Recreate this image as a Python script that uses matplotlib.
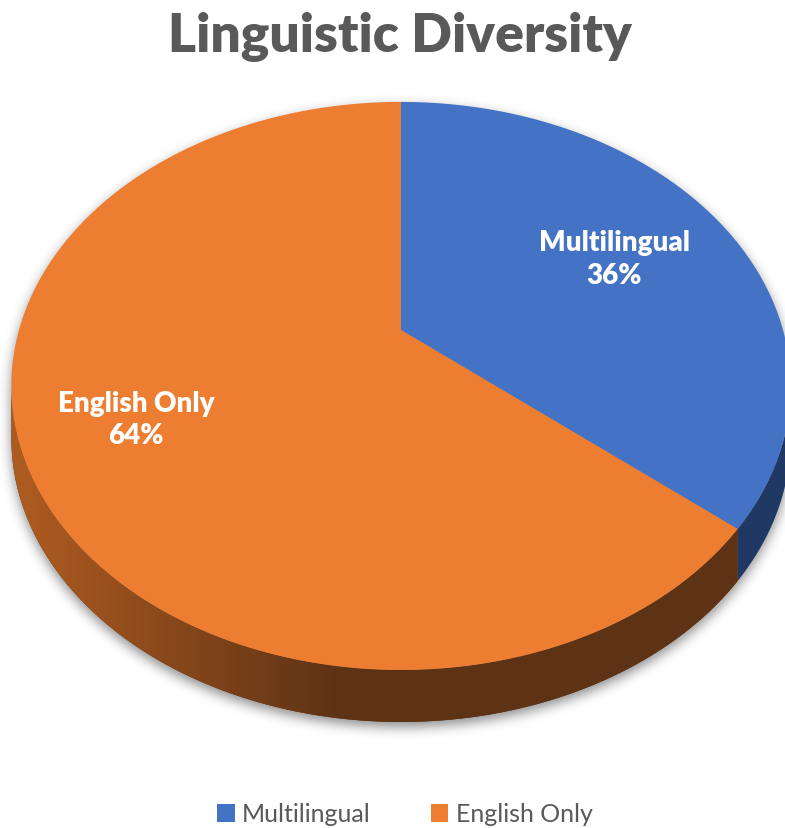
import numpy as np
import matplotlib
matplotlib.use("Agg")
import matplotlib.pyplot as plt
from matplotlib.patches import Polygon, Patch
from matplotlib.path import Path
from matplotlib.colors import to_rgb

labels = ["Multilingual", "English Only"]
values = [36, 64]
top_colors = ["#4472C4", "#ED7D31"]
side_colors = ["#1F3864", "#5E3215"]
label_radius = [0.65, 0.72]

W, H = 785, 829
# perspective disc: centre, half-axes, tilt factor, rim thickness (pixels)
cx, cy = 401, 331
A, B, k = 382, 273, 0.197
D = 52

plt.rcParams["font.family"] = ["Lato", "DejaVu Sans"]


def project(phi, r=1.0):
    # phi measured clockwise from 12 o'clock
    x = r * np.sin(phi)
    y = r * np.cos(phi)
    d = 1 + k * y
    return cx + A * x / d, cy - B * y / d


def blur(img, sigma):
    rad = int(3 * sigma)
    t = np.arange(-rad, rad + 1)
    ker = np.exp(-t ** 2 / (2 * sigma ** 2))
    ker /= ker.sum()
    img = np.apply_along_axis(lambda v: np.convolve(v, ker, mode="same"), 0, img)
    img = np.apply_along_axis(lambda v: np.convolve(v, ker, mode="same"), 1, img)
    return img


fig = plt.figure(figsize=(W / 100, H / 100), dpi=100)
ax = fig.add_axes([0, 0, 1, 1])
ax.set_xlim(0, W)
ax.set_ylim(H, 0)
ax.axis("off")

fracs = np.array(values, dtype=float) / sum(values)
bounds = 2 * np.pi * np.concatenate([[0], np.cumsum(fracs)])
lo = np.arccos(-k)
hi = 2 * np.pi - lo

# soft shadow under the whole disc
ring = np.linspace(0, 2 * np.pi, 720)
tx, ty = project(ring)
front = np.linspace(lo, hi, 400)
fx, fy = project(front)
side_outline = np.column_stack([np.r_[fx, fx[::-1]], np.r_[fy, fy[::-1] + D]])
gx, gy = np.meshgrid(np.arange(W) + 0.5, np.arange(H) + 0.5)
pts = np.column_stack([gx.ravel(), gy.ravel() - 5])
mask = Path(np.column_stack([tx, ty])).contains_points(pts) | Path(side_outline).contains_points(pts)
mask = blur(mask.reshape(H, W).astype(float), 6)
shadow = np.zeros((H, W, 4))
shadow[..., 3] = 0.45 * mask
ax.imshow(shadow, extent=(0, W, H, 0), zorder=0, interpolation="bilinear")

# rim of each slice
xs = np.arange(W)
t = np.clip((xs - 30) / (340 - 30), 0, 1)[:, None]
light = np.array(to_rgb("#AB5A20"))
for i in range(len(values)):
    s0 = max(bounds[i], lo)
    s1 = min(bounds[i + 1], hi)
    if s1 <= s0:
        continue
    phis = np.linspace(s0, s1, 300)
    X, Y = project(phis)
    poly = Polygon(np.column_stack([np.r_[X, X[::-1]], np.r_[Y, Y[::-1] + D]]),
                   closed=True, facecolor=side_colors[i], edgecolor="none", zorder=1)
    ax.add_patch(poly)
    if i == 1:
        dark = np.array(to_rgb(side_colors[i]))
        grad = (light * (1 - t) + dark * t)[None, :, :]
        im = ax.imshow(grad, extent=(0, W, H, 0), zorder=1.5, aspect="auto")
        im.set_clip_path(poly)

# top face
for i in range(len(values)):
    phis = np.linspace(bounds[i], bounds[i + 1], 400)
    X, Y = project(phis)
    ax.add_patch(Polygon(np.column_stack([np.r_[cx, X], np.r_[cy, Y]]), closed=True,
                         facecolor=top_colors[i], edgecolor="none", zorder=2))

    mid = (bounds[i] + bounds[i + 1]) / 2
    lx, ly = project(mid, label_radius[i])
    ax.text(lx, ly, f"{labels[i]}\n{values[i]}%", ha="center", va="center",
            color="white", fontsize=20, fontweight="heavy", linespacing=1.3, zorder=3)

ax.text(400, 52, "Linguistic Diversity", ha="center", va="baseline",
        fontsize=38.5, fontweight="heavy", color="#595959")

handles = [Patch(facecolor=c, edgecolor="none") for c in top_colors]
ax.legend(handles, labels, loc="center", bbox_to_anchor=(405 / W, 1 - 815 / H),
          ncol=2, frameon=False, fontsize=18, labelcolor="#595959",
          handlelength=0.7, handleheight=0.7, handletextpad=0.3, columnspacing=2.4)

fig.savefig("out.png", dpi=100)
